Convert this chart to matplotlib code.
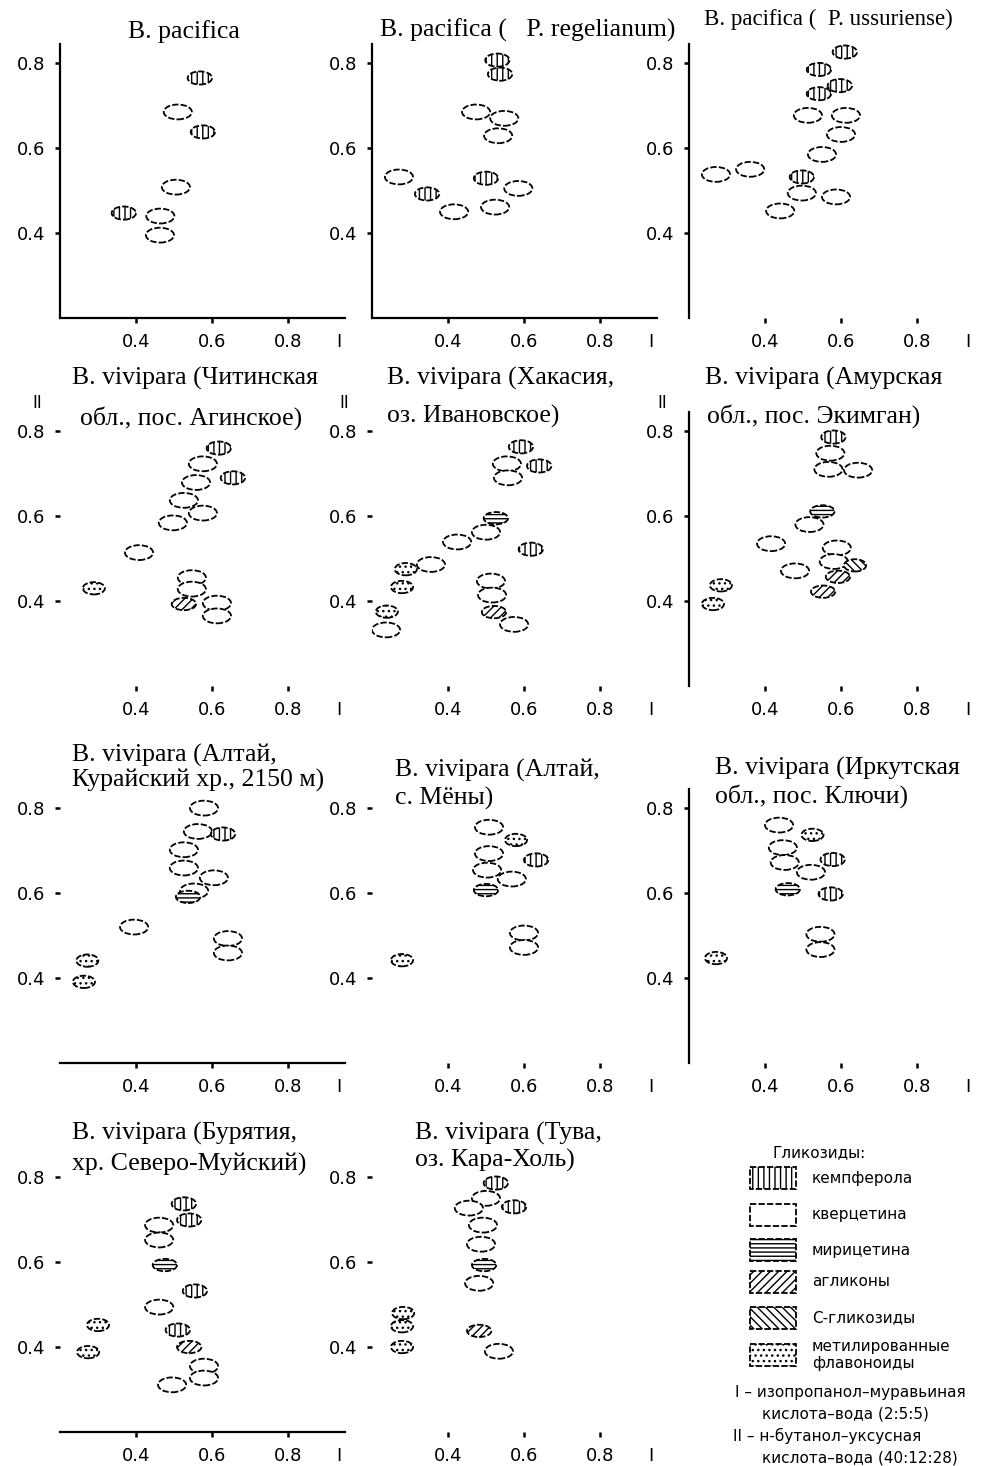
import matplotlib
matplotlib.use('Agg')
import matplotlib.pyplot as plt
from matplotlib.patches import Ellipse, Rectangle

plt.rcParams['hatch.linewidth'] = 1.0
plt.rcParams['font.family'] = ['DejaVu Sans']

# kinds: k - кемпферол, q - кверцетин, m - мирицетин, a - агликоны,
#        c - С-гликозиды, me - метилированные флавоноиды

# B. pacifica
p1_x = [0.568, 0.51, 0.576, 0.505, 0.368, 0.464, 0.463]
p1_y = [0.765, 0.685, 0.638, 0.508, 0.447, 0.44, 0.395]
p1_k = ['k', 'q', 'k', 'q', 'k', 'q', 'q']

# B. pacifica ( P. regelianum)
p2_x = [0.53, 0.537, 0.474, 0.548, 0.532, 0.271, 0.345, 0.416, 0.5, 0.585, 0.524]
p2_y = [0.807, 0.774, 0.685, 0.67, 0.629, 0.532, 0.492, 0.45, 0.529, 0.505, 0.461]
p2_k = ['k', 'k', 'q', 'q', 'q', 'q', 'k', 'q', 'k', 'q', 'q']

# B. pacifica ( P. ussuriense)
p3_x = [0.61, 0.542, 0.597, 0.542, 0.513, 0.613, 0.6, 0.55, 0.271, 0.361, 0.497, 0.497, 0.587, 0.44]
p3_y = [0.826, 0.785, 0.747, 0.728, 0.677, 0.677, 0.632, 0.585, 0.538, 0.55, 0.532, 0.494, 0.485, 0.452]
p3_k = ['k', 'k', 'k', 'k', 'q', 'q', 'q', 'q', 'q', 'q', 'k', 'q', 'q', 'q']

# Читинская обл.
p4_x = [0.618, 0.576, 0.558, 0.655, 0.526, 0.576, 0.497, 0.408, 0.289, 0.547, 0.547, 0.526, 0.613, 0.613]
p4_y = [0.76, 0.723, 0.679, 0.69, 0.637, 0.607, 0.584, 0.514, 0.43, 0.455, 0.428, 0.393, 0.395, 0.365]
p4_k = ['k', 'q', 'q', 'k', 'q', 'q', 'q', 'q', 'me', 'q', 'q', 'a', 'q', 'q']

# Хакасия
p5_x = [0.592, 0.555, 0.64, 0.558, 0.526, 0.5, 0.424, 0.618, 0.355, 0.289, 0.279, 0.239, 0.237,
        0.513, 0.516, 0.521, 0.574]
p5_y = [0.763, 0.723, 0.718, 0.69, 0.595, 0.562, 0.539, 0.522, 0.486, 0.475, 0.433, 0.375, 0.332,
        0.447, 0.414, 0.374, 0.345]
p5_k = ['k', 'q', 'k', 'q', 'm', 'q', 'q', 'k', 'q', 'me', 'me', 'me', 'q', 'q', 'q', 'a', 'q']

# Амурская обл.
p6_x = [0.58, 0.572, 0.567, 0.645, 0.551, 0.517, 0.416, 0.589, 0.581, 0.637, 0.592, 0.479, 0.553, 0.284, 0.263]
p6_y = [0.786, 0.748, 0.71, 0.708, 0.611, 0.58, 0.535, 0.525, 0.493, 0.484, 0.457, 0.471, 0.422, 0.437, 0.393]
p6_k = ['k', 'q', 'q', 'q', 'm', 'q', 'q', 'q', 'q', 'c', 'a', 'q', 'a', 'me', 'me']

# Алтай, Курайский хр.
p7_x = [0.579, 0.563, 0.629, 0.526, 0.526, 0.605, 0.553, 0.537, 0.395, 0.642, 0.642, 0.272, 0.263]
p7_y = [0.8, 0.745, 0.739, 0.702, 0.659, 0.636, 0.605, 0.591, 0.52, 0.493, 0.459, 0.441, 0.391]
p7_k = ['q', 'q', 'k', 'q', 'q', 'q', 'q', 'm', 'q', 'q', 'q', 'me', 'me']

# Алтай, с. Мёны
p8_x = [0.508, 0.579, 0.508, 0.632, 0.503, 0.568, 0.5, 0.6, 0.6, 0.279]
p8_y = [0.755, 0.725, 0.693, 0.678, 0.654, 0.633, 0.607, 0.506, 0.472, 0.442]
p8_k = ['q', 'me', 'q', 'k', 'q', 'q', 'm', 'q', 'q', 'me']

# Иркутская обл.
p9_x = [0.437, 0.525, 0.447, 0.578, 0.452, 0.521, 0.46, 0.573, 0.546, 0.546, 0.271]
p9_y = [0.76, 0.737, 0.707, 0.679, 0.672, 0.649, 0.609, 0.598, 0.503, 0.467, 0.447]
p9_k = ['q', 'me', 'q', 'k', 'q', 'q', 'm', 'k', 'q', 'q', 'me']

# Бурятия
p10_x = [0.526, 0.54, 0.461, 0.461, 0.476, 0.555, 0.461, 0.3, 0.51, 0.54, 0.274, 0.579, 0.579, 0.495]
p10_y = [0.737, 0.699, 0.687, 0.652, 0.593, 0.532, 0.494, 0.452, 0.44, 0.4, 0.388, 0.355, 0.327, 0.311]
p10_k = ['k', 'k', 'q', 'q', 'm', 'k', 'q', 'me', 'k', 'a', 'me', 'q', 'q', 'q']

# Тува
p11_x = [0.526, 0.5, 0.455, 0.574, 0.492, 0.487, 0.495, 0.482, 0.282, 0.279, 0.279, 0.482, 0.534]
p11_y = [0.786, 0.75, 0.727, 0.73, 0.687, 0.642, 0.593, 0.55, 0.48, 0.449, 0.4, 0.438, 0.39]
p11_k = ['k', 'q', 'q', 'k', 'q', 'q', 'm', 'q', 'me', 'me', 'me', 'a', 'q']

xticks = [0.4, 0.6, 0.8]
xtick_labels = ['0.4', '0.6', '0.8']
yticks = [0.4, 0.6, 0.8]
ytick_labels = ['0.4', '0.6', '0.8']

legend_kinds = ['k', 'q', 'm', 'a', 'c', 'me']
legend_labels = ['кемпферола', 'кверцетина', 'мирицетина', 'агликоны', 'С-гликозиды',
                 'метилированные\nфлавоноиды']

# style per kind: hatch, (width, height) in data units
hatches = {'k': '|||', 'q': '', 'm': '----', 'a': '////', 'c': '\\\\\\\\', 'me': '...'}
sizes = {'k': (0.064, 0.031), 'q': (0.074, 0.035), 'm': (0.064, 0.029),
         'a': (0.064, 0.029), 'c': (0.058, 0.029), 'me': (0.058, 0.029)}

W, H = 982, 1466
fig = plt.figure(figsize=(W / 100, H / 100), dpi=100)

col_left = [60, 372, 689]
row_top = [44, 412, 789, 1158]
ax_w, ax_h = 285, 274

# (data, row, col, left spine, bottom spine)
panels = [
    ((p1_x, p1_y, p1_k), 0, 0, True, True),
    ((p2_x, p2_y, p2_k), 0, 1, True, True),
    ((p3_x, p3_y, p3_k), 0, 2, True, False),
    ((p4_x, p4_y, p4_k), 1, 0, False, False),
    ((p5_x, p5_y, p5_k), 1, 1, False, False),
    ((p6_x, p6_y, p6_k), 1, 2, True, False),
    ((p7_x, p7_y, p7_k), 2, 0, False, True),
    ((p8_x, p8_y, p8_k), 2, 1, False, False),
    ((p9_x, p9_y, p9_k), 2, 2, True, False),
    ((p10_x, p10_y, p10_k), 3, 0, False, True),
    ((p11_x, p11_y, p11_k), 3, 1, False, False),
]

dash = (0, (3.5, 1.2))

for (xs, ys, ks), r, c, sp_left, sp_bottom in panels:
    l = col_left[c]
    t = row_top[r]
    ax = fig.add_axes([l / W, 1 - (t + ax_h) / H, ax_w / W, ax_h / H])
    ax.set_xlim(0.2, 0.95)
    ax.set_ylim(0.2, 0.845)
    ax.patch.set_alpha(0)
    for s in ['top', 'right']:
        ax.spines[s].set_visible(False)
    ax.spines['left'].set_visible(sp_left)
    ax.spines['bottom'].set_visible(sp_bottom)
    ax.spines['left'].set_linewidth(1.6)
    ax.spines['bottom'].set_linewidth(1.6)
    ax.set_xticks(xticks, xtick_labels)
    ax.set_xticks([0.935], ['I'], minor=True)
    ax.set_yticks(yticks, ytick_labels)
    ax.tick_params(which='major', direction='out', length=3.6, width=1.8, pad=7, labelsize=13)
    ax.tick_params(axis='x', which='minor', length=0, pad=10.6, labelsize=13)
    for x, y, k in zip(xs, ys, ks):
        w, h = sizes[k]
        ax.add_patch(Ellipse((x, y), w, h, facecolor='white', edgecolor='black',
                             hatch=hatches[k], linewidth=1.3, linestyle=dash))

# overlay for titles and legend in pixel coordinates
ov = fig.add_axes([0, 0, 1, 1], zorder=-1)
ov.set_xlim(0, W)
ov.set_ylim(H, 0)
ov.axis('off')

serif = ['Liberation Serif', 'DejaVu Serif']
tsize = 18.5

titles = [
    (128, 38, 'B. pacifica', tsize),
    (380, 37, 'B. pacifica (   P. regelianum)', tsize),
    (704, 25, 'B. pacifica (  P. ussuriense)', 16.5),
    (72, 385, 'B. vivipara (Читинская', tsize), (80, 425, 'обл., пос. Агинское)', tsize),
    (387, 385, 'B. vivipara (Хакасия,', tsize), (387, 423, 'оз. Ивановское)', tsize),
    (705, 385, 'B. vivipara (Амурская', tsize), (707, 423, 'обл., пос. Экимган)', tsize),
    (72, 762, 'B. vivipara (Алтай,', tsize), (72, 787, 'Курайский хр., 2150 м)', tsize),
    (395, 777, 'B. vivipara (Алтай,', tsize), (395, 805, 'с. Мёны)', tsize),
    (715, 775, 'B. vivipara (Иркутская', tsize), (715, 803, 'обл., пос. Ключи)', tsize),
    (72, 1140, 'B. vivipara (Бурятия,', tsize), (72, 1171, 'хр. Северо-Муйский)', tsize),
    (415, 1140, 'B. vivipara (Тува,', tsize), (415, 1167, 'оз. Кара-Холь)', tsize),
]
for x, y, s, fs in titles:
    ov.text(x, y, s, family=serif, fontsize=fs, ha='left', va='baseline')

for x in [37, 344, 662]:
    ov.text(x, 408, 'II', fontsize=12, ha='center', va='baseline')

# legend
ov.text(773, 1153, 'Гликозиды:', fontsize=11, ha='left', va='center')
box_y = [1178, 1215, 1250, 1282, 1318, 1355]
for yc, k, lab in zip(box_y, legend_kinds, legend_labels):
    ov.add_patch(Rectangle((750, yc - 11), 46, 22, facecolor='white', edgecolor='black',
                           hatch=hatches[k], linewidth=1.3, linestyle=dash))
    ov.text(812, yc, lab, fontsize=11, ha='left', va='center', linespacing=1.2)

notes = [
    (735, 1392, 'I – изопропанол–муравьиная'),
    (762, 1414, 'кислота–вода (2:5:5)'),
    (733, 1436, 'II – н-бутанол–уксусная'),
    (762, 1458, 'кислота–вода (40:12:28)'),
]
for x, y, s in notes:
    ov.text(x, y, s, fontsize=11, ha='left', va='center')

fig.savefig('out.png', dpi=100)
